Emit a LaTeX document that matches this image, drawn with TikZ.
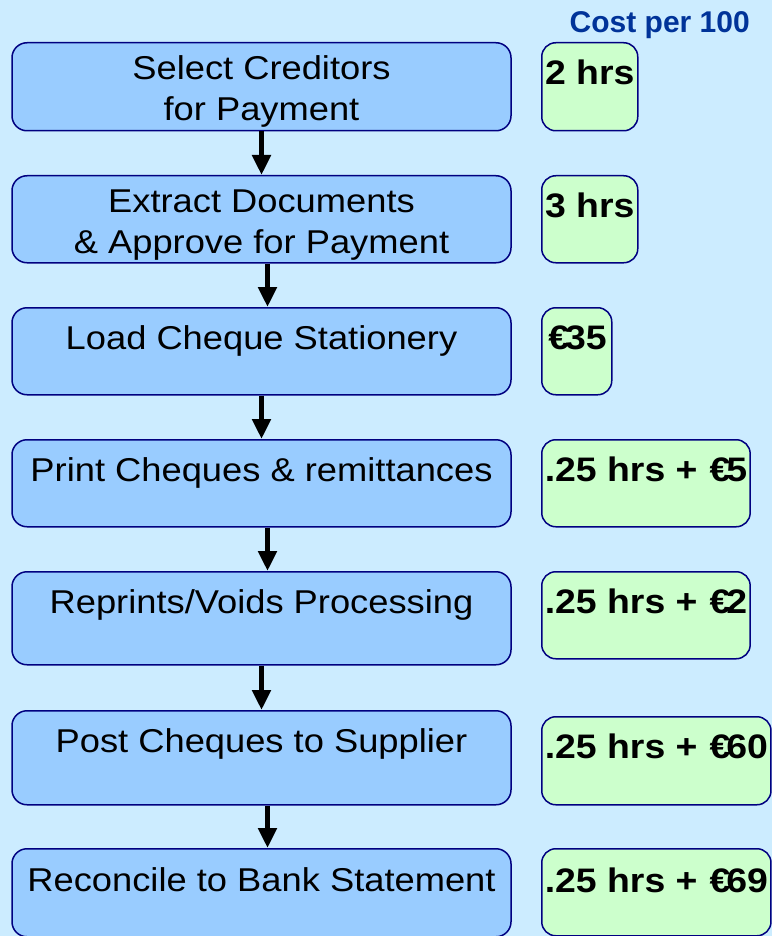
\documentclass[tikz,border=0pt]{standalone}
\usepackage{fontspec}
\setmainfont{Liberation Sans}[FakeStretch=1.1]
\newfontfamily\headfont{Liberation Sans}
\usepackage{tikz}
\usetikzlibrary{arrows.meta}
\usepackage{xcolor}
\definecolor{ColBg}{RGB}{204,236,255}
\definecolor{ColStep}{RGB}{153,204,255}
\definecolor{ColCost}{RGB}{204,255,204}
\definecolor{ColEdge}{RGB}{0,0,128}
\definecolor{ColHead}{RGB}{0,51,153}
\tikzstyle{StepBox}=[rectangle,rounded corners=15pt,draw=ColEdge,fill=ColStep,line width=1.5pt,
inner sep=0pt,minimum width=499pt,anchor=north,align=center,font=\fontsize{33}{41}\selectfont]
\tikzstyle{CostBox}=[rectangle,rounded corners=14pt,draw=ColEdge,fill=ColCost,line width=1.5pt,
inner xsep=3pt,inner ysep=0pt,anchor=north west,font=\bfseries\fontsize{34}{41}\selectfont]
\tikzstyle{HeadText}=[text=ColHead,inner sep=0pt,font=\headfont\bfseries\fontsize{30}{34}\selectfont]
\tikzstyle{FlowArrow}=[line width=5pt,-{Triangle[width=18pt,length=20pt]}]
\newcommand{\eur}{\kern.05em€\kern-.12em}

\begin{document}
\begin{tikzpicture}[x=1pt,y=-1pt]
        \useasboundingbox (0,0) rectangle (772,936);
        \fill[ColBg] (0,0) rectangle (772,936);
        \node[HeadText,anchor=base east](hd)at(750,33){Cost per 100};
        % process steps
        \node[StepBox,text height=78pt,text depth=10pt](s1)at(261.5,42){Select Creditors\\for Payment};
        \node[StepBox,text height=78pt,text depth=9pt](s2)at(261.5,175){Extract Documents\\\& Approve for Payment};
        \node[StepBox,text height=42pt,text depth=45pt](s3)at(261.5,307){Load Cheque Stationery};
        \node[StepBox,text height=42pt,text depth=45pt](s4)at(261.5,439){Print Cheques \& remittances};
        \node[StepBox,text height=42pt,text depth=51pt](s5)at(261.5,571){Reprints/Voids Processing};
        \node[StepBox,text height=42pt,text depth=52pt](s6)at(261.5,710){Post Cheques to Supplier};
        \node[StepBox,text height=43pt,text depth=45pt](s7)at(261.5,848){Reconcile to Bank Statement};
        % costs
        \node[CostBox,minimum width=96pt,text height=42pt,text depth=46pt](c1)at(541,42){2 hrs};
        \node[CostBox,minimum width=96pt,text height=42pt,text depth=45pt](c2)at(541,175){3 hrs};
        \node[CostBox,minimum width=70pt,text height=42pt,text depth=45pt](c3)at(541,307){\eur35};
        \node[CostBox,minimum width=208pt,text height=42pt,text depth=45pt](c4)at(541,439){.25 hrs + \eur5};
        \node[CostBox,minimum width=208pt,text height=42pt,text depth=45pt](c5)at(541,571){.25 hrs + \eur2};
        \node[CostBox,minimum width=229pt,text height=42pt,text depth=46pt](c6)at(541,716){.25 hrs + \eur60};
        \node[CostBox,minimum width=229pt,text height=44pt,text depth=43pt](c7)at(541,848){.25 hrs + \eur69};
        % arrows
        \draw[FlowArrow](s1)--(s2);
        \draw[FlowArrow]([xshift=6pt]s2.south)--([xshift=6pt]s3.north);
        \draw[FlowArrow](s3)--(s4);
        \draw[FlowArrow]([xshift=6pt]s4.south)--([xshift=6pt]s5.north);
        \draw[FlowArrow](s5)--(s6);
        \draw[FlowArrow]([xshift=6pt]s6.south)--([xshift=6pt]s7.north);
    \end{tikzpicture}
\end{document}
